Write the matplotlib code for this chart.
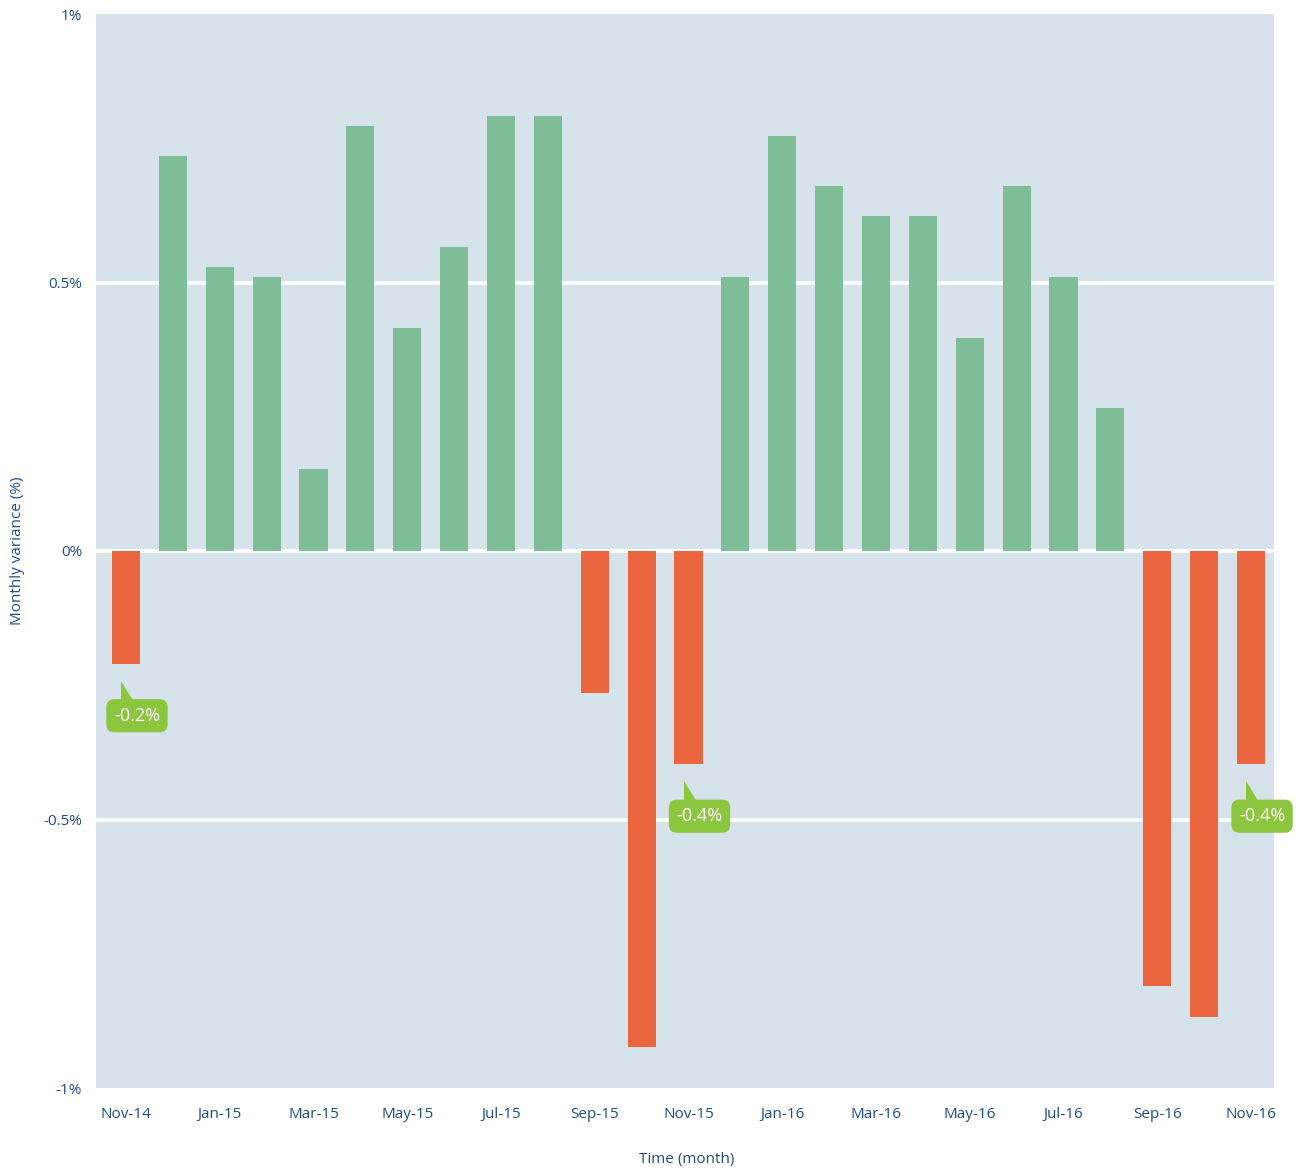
import matplotlib
matplotlib.use("Agg")
import matplotlib.pyplot as plt
from matplotlib.patches import Polygon
from matplotlib.transforms import IdentityTransform

months = [
    "Nov-14", "Dec-14", "Jan-15", "Feb-15", "Mar-15", "Apr-15", "May-15",
    "Jun-15", "Jul-15", "Aug-15", "Sep-15", "Oct-15", "Nov-15", "Dec-15",
    "Jan-16", "Feb-16", "Mar-16", "Apr-16", "May-16", "Jun-16", "Jul-16",
    "Aug-16", "Sep-16", "Oct-16", "Nov-16",
]
variance = [
    -0.21, 0.736, 0.529, 0.51, 0.153, 0.791, 0.415, 0.566, 0.81, 0.81,
    -0.264, -0.924, -0.397, 0.51, 0.773, 0.68, 0.624, 0.624, 0.397, 0.68,
    0.51, 0.266, -0.81, -0.868, -0.397,
]
callouts = {0: "-0.2%", 12: "-0.4%", 24: "-0.4%"}
yticks = [1, 0.5, 0, -0.5, -1]
ytick_labels = ["1%", "0.5%", "0%", "-0.5%", "-1%"]

GREEN = "#7fbd98"
RED = "#eb663e"
BG = "#d7e3ea"
LIME = "#8cc63f"
TEXT = "#1b4c86"
FONT = ["Open Sans", "DejaVu Sans"]

fig = plt.figure(figsize=(12.96, 11.72), dpi=100)
ax = fig.add_axes([96 / 1296, 1 - 1088 / 1172, (1274 - 96) / 1296, (1088 - 14) / 1172])
ax.set_facecolor(BG)

for y in [0.5, 0, -0.5]:
    ax.axhline(y, color="white", lw=2.6, zorder=1)

x = list(range(len(months)))
colors = [GREEN if v >= 0 else RED for v in variance]
ax.bar(x, variance, width=0.6, color=colors, zorder=2)

ax.set_xlim(-0.64, 24.49)
ax.set_ylim(-1, 1)
for s in ax.spines.values():
    s.set_visible(False)

ax.set_yticks(yticks)
ax.set_yticklabels(ytick_labels, fontfamily=FONT, fontsize=11, color=TEXT)
ax.set_xticks(x[::2])
ax.set_xticklabels(months[::2], fontfamily=FONT, fontsize=11, color=TEXT)
ax.tick_params(length=0)
ax.tick_params(axis="x", pad=14)
ax.tick_params(axis="y", pad=10)

fig.text(18 / 1296, 1 - 551 / 1172, "Monthly variance (%)", rotation=90,
         ha="center", va="center", fontfamily=FONT, fontsize=11, color=TEXT)
fig.text(687 / 1296, 1 - 1160 / 1172, "Time (month)", ha="center", va="center",
         fontfamily=FONT, fontsize=11, color=TEXT)

# callouts under the negative bars
for i, label in callouts.items():
    ax.annotate(label, xy=(i, variance[i]), xytext=(11, -52), textcoords="offset pixels",
                ha="center", va="center", fontfamily=FONT, fontsize=13, color="white",
                bbox=dict(boxstyle="round,pad=0.42,rounding_size=0.45", fc=LIME, ec="none"),
                zorder=5, annotation_clip=False)
    px, py = ax.transData.transform((i, variance[i]))
    tail = Polygon([(px - 5, py - 17), (px - 5, py - 38), (px + 8, py - 38)],
                   closed=True, fc=LIME, ec="none", transform=IdentityTransform(), zorder=5)
    fig.add_artist(tail)

fig.savefig("out.png", dpi=100)
